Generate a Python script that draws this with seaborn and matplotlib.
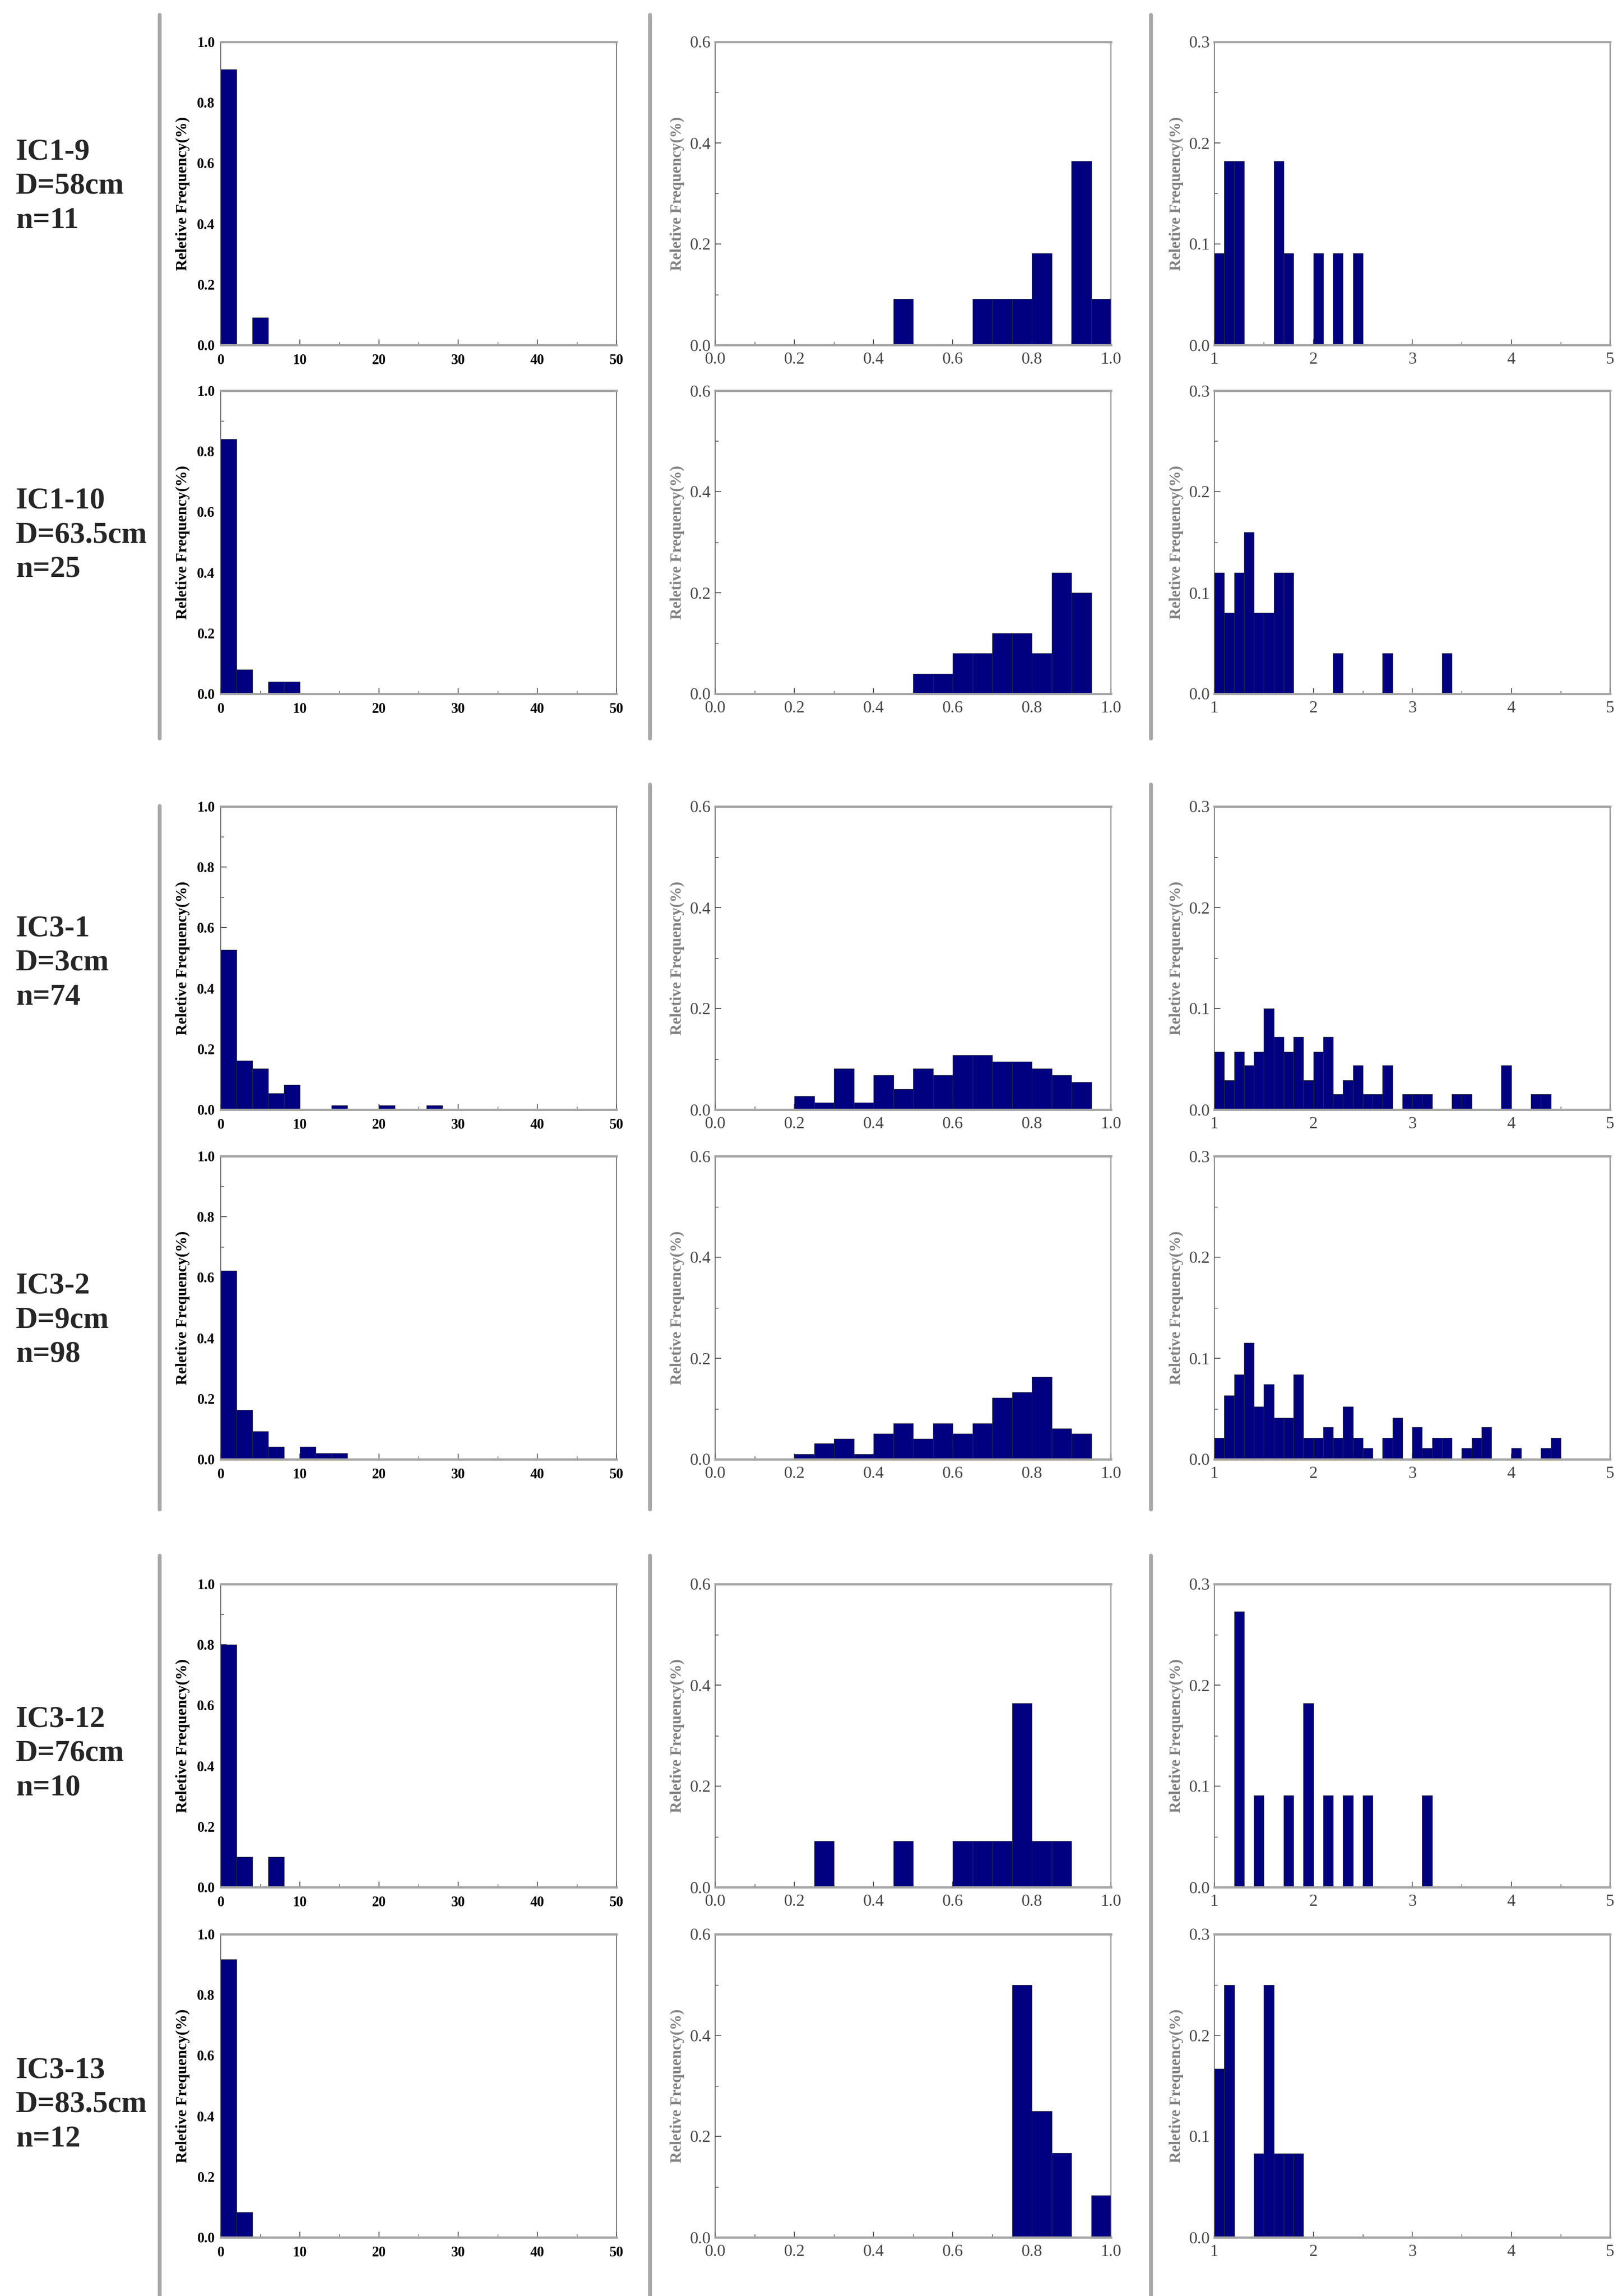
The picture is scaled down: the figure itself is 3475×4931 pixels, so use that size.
import numpy as np
import pandas as pd
import matplotlib
matplotlib.use('Agg')
import matplotlib.pyplot as plt
from matplotlib.lines import Line2D
from matplotlib.ticker import MultipleLocator, FormatStrFormatter
import seaborn as sns

sns.set_theme(style='ticks')
plt.rcParams['font.family'] = ['Liberation Serif', 'DejaVu Serif']

# sample labels
samples = ['IC1-9\nD=58cm\nn=11', 'IC1-10\nD=63.5cm\nn=25', 'IC3-1\nD=3cm\nn=74',
           'IC3-2\nD=9cm\nn=98', 'IC3-12\nD=76cm\nn=10', 'IC3-13\nD=83.5cm\nn=12']

# left column: bins of width 2 on 0-50 (bin start, relative frequency)
left_bins = [[0, 4],
             [0, 2, 6, 8],
             [0, 2, 4, 6, 8, 14, 20, 26],
             [0, 2, 4, 6, 10, 12, 14],
             [0, 2, 6],
             [0, 2]]
left_freq = [[0.909, 0.091],
             [0.84, 0.08, 0.04, 0.04],
             [0.527, 0.162, 0.135, 0.054, 0.081, 0.014, 0.014, 0.014],
             [0.622, 0.163, 0.092, 0.041, 0.041, 0.020, 0.020],
             [0.80, 0.10, 0.10],
             [0.917, 0.083]]

# middle column: bins of width 0.05 on 0-1
mid_bins = [[0.45, 0.65, 0.70, 0.75, 0.80, 0.90, 0.95],
            [0.50, 0.55, 0.60, 0.65, 0.70, 0.75, 0.80, 0.85, 0.90],
            [0.20, 0.25, 0.30, 0.35, 0.40, 0.45, 0.50, 0.55, 0.60, 0.65, 0.70, 0.75, 0.80, 0.85, 0.90],
            [0.20, 0.25, 0.30, 0.35, 0.40, 0.45, 0.50, 0.55, 0.60, 0.65, 0.70, 0.75, 0.80, 0.85, 0.90],
            [0.25, 0.45, 0.60, 0.65, 0.70, 0.75, 0.80, 0.85],
            [0.75, 0.80, 0.85, 0.95]]
mid_freq = [[0.091, 0.091, 0.091, 0.091, 0.182, 0.364, 0.091],
            [0.04, 0.04, 0.08, 0.08, 0.12, 0.12, 0.08, 0.24, 0.20],
            [0.027, 0.014, 0.081, 0.014, 0.068, 0.041, 0.081, 0.068, 0.108, 0.108, 0.095, 0.095, 0.081, 0.068, 0.054],
            [0.010, 0.031, 0.041, 0.010, 0.051, 0.071, 0.041, 0.071, 0.051, 0.071, 0.122, 0.133, 0.163, 0.061, 0.051],
            [0.091, 0.091, 0.091, 0.091, 0.091, 0.364, 0.091, 0.091],
            [0.50, 0.25, 0.167, 0.083]]

# right column: bins of width 0.1 on 1-5
right_bins = [[1.0, 1.1, 1.2, 1.6, 1.7, 2.0, 2.2, 2.4],
              [1.0, 1.1, 1.2, 1.3, 1.4, 1.5, 1.6, 1.7, 2.2, 2.7, 3.3],
              [1.0, 1.1, 1.2, 1.3, 1.4, 1.5, 1.6, 1.7, 1.8, 1.9, 2.0, 2.1, 2.2, 2.3, 2.4, 2.5, 2.6, 2.7,
               2.9, 3.0, 3.1, 3.4, 3.5, 3.9, 4.2, 4.3],
              [1.0, 1.1, 1.2, 1.3, 1.4, 1.5, 1.6, 1.7, 1.8, 1.9, 2.0, 2.1, 2.2, 2.3, 2.4, 2.5, 2.7, 2.8,
               3.0, 3.1, 3.2, 3.3, 3.5, 3.6, 3.7, 4.0, 4.3, 4.4],
              [1.2, 1.4, 1.7, 1.9, 2.1, 2.3, 2.5, 3.1],
              [1.0, 1.1, 1.4, 1.5, 1.6, 1.7, 1.8]]
right_freq = [[0.091, 0.182, 0.182, 0.182, 0.091, 0.091, 0.091, 0.091],
              [0.12, 0.08, 0.12, 0.16, 0.08, 0.08, 0.12, 0.12, 0.04, 0.04, 0.04],
              [0.057, 0.029, 0.057, 0.044, 0.057, 0.100, 0.072, 0.057, 0.072, 0.029, 0.057, 0.072, 0.015,
               0.029, 0.044, 0.015, 0.015, 0.044, 0.015, 0.015, 0.015, 0.015, 0.015, 0.044, 0.015, 0.015],
              [0.021, 0.063, 0.084, 0.115, 0.052, 0.074, 0.041, 0.041, 0.084, 0.021, 0.021, 0.032, 0.021,
               0.052, 0.021, 0.011, 0.021, 0.041, 0.032, 0.011, 0.021, 0.021, 0.011, 0.021, 0.032, 0.011,
               0.011, 0.021],
              [0.273, 0.091, 0.091, 0.182, 0.091, 0.091, 0.091, 0.091],
              [0.167, 0.25, 0.083, 0.25, 0.083, 0.083, 0.083]]

W, H = 3475, 4931
fig = plt.figure(figsize=(W / 100, H / 100), dpi=100)

row_top = [90, 839, 1732, 2483, 3402, 4154]
row_h = 651
col_left = [474, 1536, 2608]
col_w = 850
label_y = [400, 1149, 2068, 2835, 3766, 4520]

# column settings: x range, bin width, x major/minor, y max, y major/minor, tick format
cols = [
    dict(xlim=(0, 50), bw=2, xmaj=10, xmin=5, ylim=1.0, ymaj=0.2, ymin=0.1, xfmt='%d', yfmt='%.1f'),
    dict(xlim=(0, 1), bw=0.05, xmaj=0.2, xmin=0.1, ylim=0.6, ymaj=0.2, ymin=0.1, xfmt='%.1f', yfmt='%.1f'),
    dict(xlim=(1, 5), bw=0.1, xmaj=1, xmin=0.5, ylim=0.3, ymaj=0.1, ymin=0.05, xfmt='%d', yfmt='%.1f'),
]
all_bins = [left_bins, mid_bins, right_bins]
all_freq = [left_freq, mid_freq, right_freq]

for r in range(6):
    for c in range(3):
        cfg = cols[c]
        ax = fig.add_axes([col_left[c] / W, 1 - (row_top[r] + row_h) / H, col_w / W, row_h / H])
        df = pd.DataFrame({'start': all_bins[c][r], 'freq': all_freq[c][r]})
        df['mid'] = df['start'] + cfg['bw'] / 2
        sns.histplot(data=df, x='mid', weights='freq', binwidth=cfg['bw'], binrange=cfg['xlim'],
                     ax=ax, color='#000080', edgecolor='#2b2b3a', linewidth=0.8, alpha=1)
        ax.set_xlim(*cfg['xlim'])
        ax.set_ylim(0, cfg['ylim'])
        ax.xaxis.set_major_locator(MultipleLocator(cfg['xmaj']))
        ax.xaxis.set_minor_locator(MultipleLocator(cfg['xmin']))
        ax.yaxis.set_major_locator(MultipleLocator(cfg['ymaj']))
        ax.yaxis.set_minor_locator(MultipleLocator(cfg['ymin']))
        ax.xaxis.set_major_formatter(FormatStrFormatter(cfg['xfmt']))
        ax.yaxis.set_major_formatter(FormatStrFormatter(cfg['yfmt']))

        for s in ['top', 'bottom']:
            ax.spines[s].set_color('#a5a5a5')
            ax.spines[s].set_linewidth(3.5)
        for s in ['left', 'right']:
            ax.spines[s].set_color('#555555')
            ax.spines[s].set_linewidth(1.2)

        if c == 0:
            tcol, tsize, tweight = 'black', 22, 'bold'
            lcol = 'black'
            ypad, xpad = 9, 14
        else:
            tcol, tsize, tweight = '#444444', 26, 'normal'
            lcol = '#808080'
            ypad, xpad = 7, 11
        ax.tick_params(axis='both', which='major', direction='in', length=9, width=1.2,
                       color='#333333', labelsize=tsize, labelcolor=tcol)
        ax.tick_params(axis='both', which='minor', direction='in', length=5, width=1.0, color='#333333')
        ax.tick_params(axis='x', which='major', pad=xpad)
        ax.tick_params(axis='y', which='major', pad=ypad)
        for lab in ax.get_xticklabels() + ax.get_yticklabels():
            lab.set_fontweight(tweight)

        ax.set_xlabel('')
        ax.set_ylabel('Reletive Frequency(%)', fontsize=24, fontweight='bold', color=lcol)
        ax.yaxis.set_label_coords(-0.078, 0.5)

    fig.text(34 / W, 1 - label_y[r] / H, samples[r], fontsize=47, fontweight='bold',
             ha='left', va='center', linespacing=1.3)

# gray separator lines between columns
sep_x = [343, 1396, 2472]
sep_segments = [
    [(32, 1586), (32, 1586), (32, 1586)],
    [(1731, 3242), (1685, 3242), (1685, 3242)],
    [(3341, 4931), (3341, 4931), (3341, 4931)],
]
for group in sep_segments:
    for x, (y0, y1) in zip(sep_x, group):
        fig.add_artist(Line2D([x / W, x / W], [1 - y0 / H, 1 - y1 / H], transform=fig.transFigure,
                              color='#a8a8a8', linewidth=6))

fig.savefig('out.png', dpi=100, facecolor='white')
